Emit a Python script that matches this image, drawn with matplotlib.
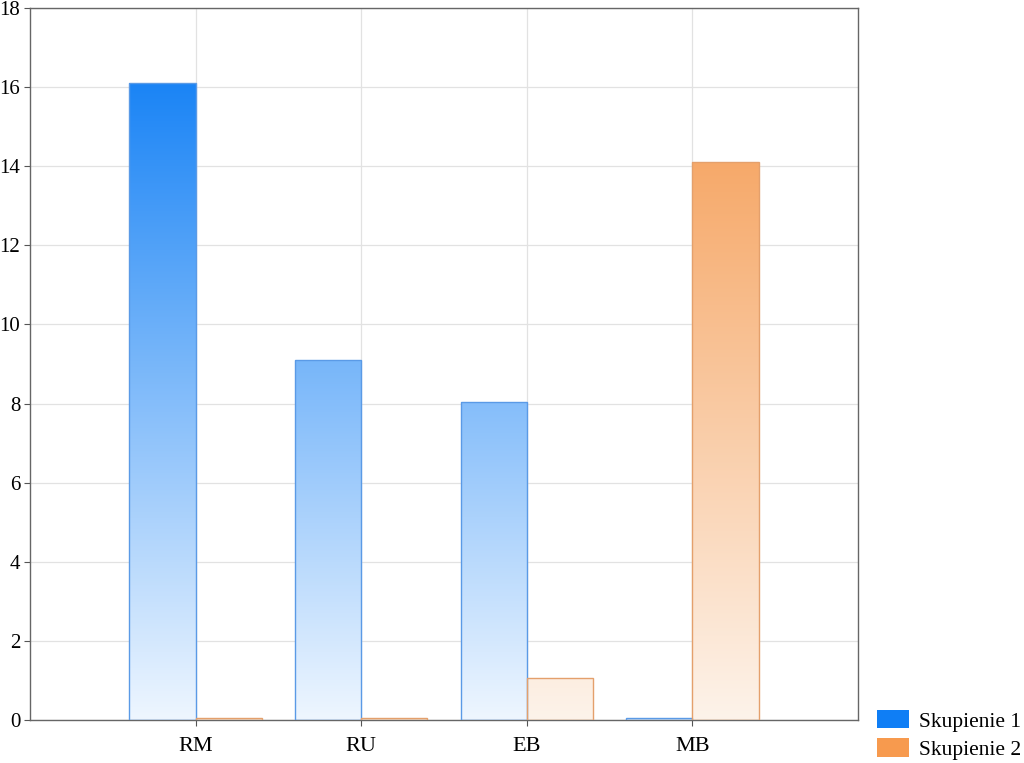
import numpy as np
import matplotlib
matplotlib.use("Agg")
import matplotlib.pyplot as plt
from matplotlib.colors import LinearSegmentedColormap
from matplotlib.patches import Patch

categories = ["RM", "RU", "EB", "MB"]
series_names = ["Skupienie 1", "Skupienie 2"]
skupienie1 = [16.1, 9.1, 8.05, 0.05]
skupienie2 = [0.05, 0.05, 1.05, 14.1]
yticks = [0, 2, 4, 6, 8, 10, 12, 14, 16, 18]

plt.rcParams['font.family'] = ['Liberation Serif', 'DejaVu Serif']

fig = plt.figure(figsize=(10.24, 7.63), dpi=100)
ax = fig.add_axes([30/1024, 43/763, 828/1024, 712/763])

x = np.arange(1, len(categories) + 1)
w = 0.4
cmap_b = LinearSegmentedColormap.from_list("b", ["#eef6ff", "#0f7ef5"])
cmap_o = LinearSegmentedColormap.from_list("o", ["#fdf3ea", "#f59a50"])
edge_b = "#5a9ae6"
edge_o = "#e4a06c"
ymax = 17.0
grad = np.linspace(0, 1, 256).reshape(-1, 1)

for vals, offs, cmap, ec in [(skupienie1, -w/2, cmap_b, edge_b), (skupienie2, w/2, cmap_o, edge_o)]:
    bars = ax.bar(x + offs, vals, width=w, facecolor="none", edgecolor=ec, linewidth=1.0, zorder=3)
    for b in bars:
        im = ax.imshow(grad, cmap=cmap, aspect="auto", origin="lower",
                       extent=[b.get_x(), b.get_x() + b.get_width(), 0, ymax],
                       vmin=0, vmax=1, zorder=2)
        im.set_clip_path(b)

fs = 15.5
ax.set_xlim(0, 5)
ax.set_ylim(0, 18)
ax.set_xticks(x)
ax.set_xticklabels(categories, fontsize=16)
ax.set_yticks(yticks)
ax.set_yticklabels([str(t) for t in yticks], fontsize=15)
ax.tick_params(axis="x", direction="out", length=4, color="#555555", pad=8)
ax.tick_params(axis="y", direction="out", length=4, color="#555555", pad=3)
ax.grid(True, color="#e2e2e2", linewidth=0.9, zorder=0)
ax.set_axisbelow(True)
for s in ax.spines.values():
    s.set_color("#666666")
    s.set_linewidth(1.0)

handles = [Patch(facecolor="#0f7ef5", edgecolor="none"), Patch(facecolor="#f79a4e", edgecolor="none")]
fig.legend(handles, series_names, loc="lower left", bbox_to_anchor=(874/1024, 0.0),
           frameon=False, fontsize=fs, handlelength=1.49, handleheight=0.93,
           handletextpad=0.45, labelspacing=0.3, borderaxespad=0.0, borderpad=0.15)

fig.savefig("out.png", dpi=100)
